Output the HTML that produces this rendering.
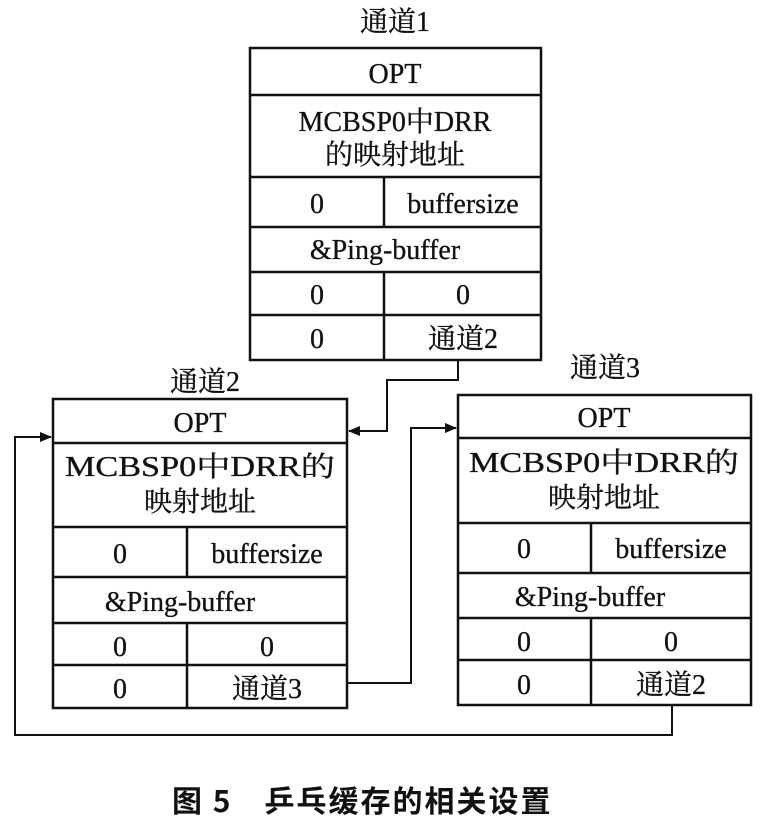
<!DOCTYPE html>
<html><head><meta charset="utf-8"><style>
body{margin:0;background:#fff}
svg text{font-family:"Liberation Serif","Noto Serif CJK SC",serif;font-size:28px;fill:#111;stroke:#111;stroke-width:0.3}
</style></head><body>
<svg width="772" height="828" viewBox="0 0 772 828" xmlns="http://www.w3.org/2000/svg">
<defs><marker id="a" markerWidth="12" markerHeight="10" refX="11" refY="5" orient="auto" markerUnits="userSpaceOnUse"><path d="M0,0 L12,5 L0,10 Z" fill="#111"/></marker></defs>
<g fill="none" stroke="#111" stroke-width="2.5">
<rect x="250" y="48" width="291" height="312"/>
<path d="M250 95H541M250 177H541M250 227H541M250 272H541M250 315H541M384 177V227M384 272V360"/>
<rect x="53" y="399" width="294" height="309"/>
<path d="M53 443H347M53 527H347M53 577H347M53 623H347M53 665H347M187 527V577M187 623V708"/>
<rect x="458" y="395" width="293" height="310"/>
<path d="M458 438H751M458 523H751M458 573H751M458 618H751M458 660H751M591 523V573M591 618V705"/>
<path d="M458 360V380H387V431H349" marker-end="url(#a)" stroke-width="2"/>
<path d="M347 683H411V428H456" marker-end="url(#a)" stroke-width="2"/>
<path d="M672 705V735H15V437H51" marker-end="url(#a)" stroke-width="2"/>
</g>
<g text-anchor="middle">
<text x="395" y="31">通道1</text>
<text x="395" y="83">OPT</text>
<text x="395" y="131">MCBSP0中DRR</text>
<text x="395" y="164">的映射地址</text>
<text x="317" y="213">0</text><text x="463" y="213">buffersize</text>
<text x="385" y="259">&amp;Ping-buffer</text>
<text x="317" y="304">0</text><text x="463" y="304">0</text>
<text x="317" y="348">0</text><text x="463" y="348">通道2</text>

<text x="205" y="391">通道2</text>
<text x="200" y="432">OPT</text>
<text x="200" y="476" textLength="270" lengthAdjust="spacingAndGlyphs">MCBSP0中DRR的</text>
<text x="200" y="511">映射地址</text>
<text x="120" y="563">0</text><text x="267" y="563">buffersize</text>
<text x="180" y="611">&amp;Ping-buffer</text>
<text x="120" y="656">0</text><text x="267" y="656">0</text>
<text x="120" y="698">0</text><text x="267" y="698">通道3</text>

<text x="605" y="377">通道3</text>
<text x="604" y="427">OPT</text>
<text x="604" y="472" textLength="270" lengthAdjust="spacingAndGlyphs">MCBSP0中DRR的</text>
<text x="604" y="507">映射地址</text>
<text x="524" y="558">0</text><text x="671" y="558">buffersize</text>
<text x="590" y="606">&amp;Ping-buffer</text>
<text x="524" y="651">0</text><text x="671" y="651">0</text>
<text x="524" y="694">0</text><text x="671" y="694">通道2</text>
</g>
<text x="172" y="812" style="font-family:'Noto Sans CJK SC',sans-serif;font-weight:bold;font-size:30px;stroke:none;letter-spacing:2px">图 5　乒乓缓存的相关设置</text>
</svg>
</body></html>
